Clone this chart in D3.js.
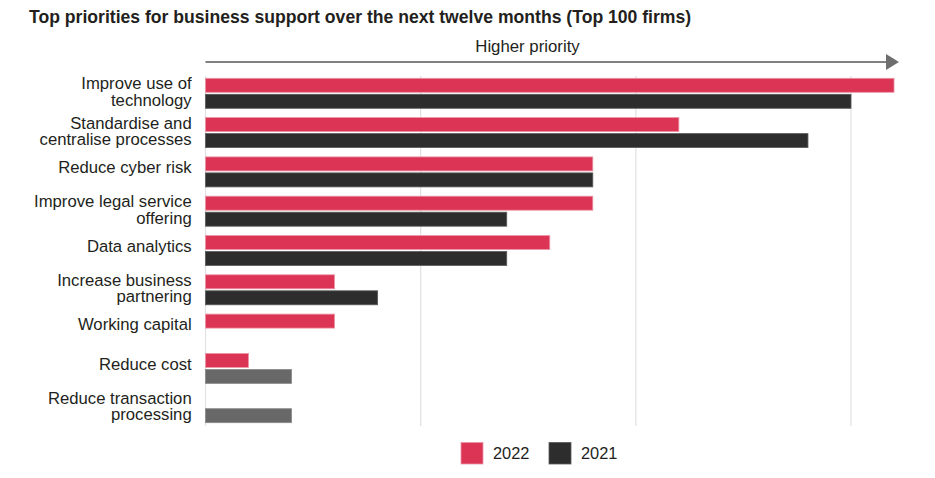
<!DOCTYPE html>
<html>
<head>
<meta charset="utf-8">
<script src="https://cdn.jsdelivr.net/npm/d3@7"></script>
<style>
  html, body { margin: 0; padding: 0; background: #ffffff; }
  svg { display: block; font-family: "Liberation Sans", Arial, Helvetica, sans-serif; }
</style>
</head>
<body>
<svg id="chart" width="935" height="478"></svg>
<script>
// ---- Data ----
const categories = [
  "Improve use of\ntechnology",
  "Standardise and\ncentralise processes",
  "Reduce cyber risk",
  "Improve legal service\noffering",
  "Data analytics",
  "Increase business\npartnering",
  "Working capital",
  "Reduce cost",
  "Reduce transaction\nprocessing"
];
const seriesNames = ["2022", "2021"];
const values2022 = [16, 11, 9, 9, 8, 3, 3, 1, 0];
const values2021 = [15, 14, 9, 7, 7, 4, 0, 2, 2];
const gridTicks = [0, 5, 10, 15];
const titleText = "Top priorities for business support over the next twelve months (Top 100 firms)";
const arrowLabel = "Higher priority";

// ---- Styles ----
const colRed = "#dc3455";
const colDark = "#2c2d2c";
const colGray = "#686868";
const textCol = "#231f20";

const svg = d3.select("#chart");

const x = d3.scaleLinear().domain([0, 15]).range([205.5, 851]);
const y = d3.scaleBand().domain(categories).range([73.65, 427.35])
  .paddingInner(0.2366).paddingOuter(0.1183);
const ySub = d3.scaleBand().domain(seriesNames).range([0, y.bandwidth()]).paddingInner(0.125);

const rows = categories.map((c, i) => ({cat: c, i, v: {"2022": values2022[i], "2021": values2021[i]}}));

// Title
svg.append("text")
  .attr("x", 29).attr("y", 23)
  .attr("font-size", 17.6).attr("font-weight", "bold")
  .attr("fill", textCol)
  .text(titleText);

// Arrow
const arrowY = 62;
svg.append("line")
  .attr("x1", x(0)).attr("x2", 888)
  .attr("y1", arrowY).attr("y2", arrowY)
  .attr("stroke", "#808080").attr("stroke-width", 2);
svg.append("path")
  .attr("d", `M886,${arrowY - 8}L899,${arrowY}L886,${arrowY + 8}Z`)
  .attr("fill", "#6e6e6e");
svg.append("text")
  .attr("x", 527.5).attr("y", 52)
  .attr("text-anchor", "middle")
  .attr("font-size", 16.8).attr("fill", textCol)
  .text(arrowLabel);

// Gridlines
svg.append("g").selectAll("line")
  .data(gridTicks).join("line")
  .attr("x1", d => x(d)).attr("x2", d => x(d))
  .attr("y1", 76).attr("y2", 426)
  .attr("stroke", "#e2e2e2").attr("stroke-width", 1.2);

// Bars
const g = svg.append("g");
rows.forEach(r => {
  seriesNames.forEach(s => {
    let fill = s === "2022" ? colRed : (r.i >= 7 ? colGray : colDark);
    let stroke = s === "2022" ? "#ec96a7" : (r.i >= 7 ? "#8a8a8a" : "#5a5a5a");
    const v = r.v[s];
    g.append("rect")
      .attr("x", x(0))
      .attr("y", y(r.cat) + ySub(s))
      .attr("width", Math.max(0, x(v) - x(0)))
      .attr("height", ySub.bandwidth())
      .attr("fill", fill)
      .attr("stroke", v > 0 ? stroke : (s === "2022" ? "#f3d0d7" : "none"))
      .attr("stroke-width", 0.8);
  });
});

// Category labels
const lab = svg.append("g");
rows.forEach(r => {
  const lines = r.cat.split("\n");
  const cy = y(r.cat) + y.bandwidth() / 2;
  const lh = 16.6;
  const t = lab.append("text")
    .attr("text-anchor", "end")
    .attr("font-size", 16.7)
    .attr("fill", textCol);
  lines.forEach((ln, j) => {
    const center = lines.length === 1 ? cy - 4.6 : cy - 1.5 + (j - (lines.length - 1) / 2) * lh;
    t.append("tspan")
      .attr("x", 191.7)
      .attr("y", center + 5.8)
      .text(ln);
  });
});

// Legend
const legend = svg.append("g");
const legendItems = [
  {name: "2022", color: colRed, stroke: "#ec96a7", x: 461},
  {name: "2021", color: colDark, stroke: "#5a5a5a", x: 549}
];
legendItems.forEach(li => {
  legend.append("rect")
    .attr("x", li.x).attr("y", 442.5)
    .attr("width", 22).attr("height", 21.5)
    .attr("fill", li.color).attr("stroke", li.stroke).attr("stroke-width", 0.8);
  legend.append("text")
    .attr("x", li.x + 32).attr("y", 459)
    .attr("font-size", 16.4).attr("fill", textCol)
    .text(li.name);
});
</script>
</body>
</html>
